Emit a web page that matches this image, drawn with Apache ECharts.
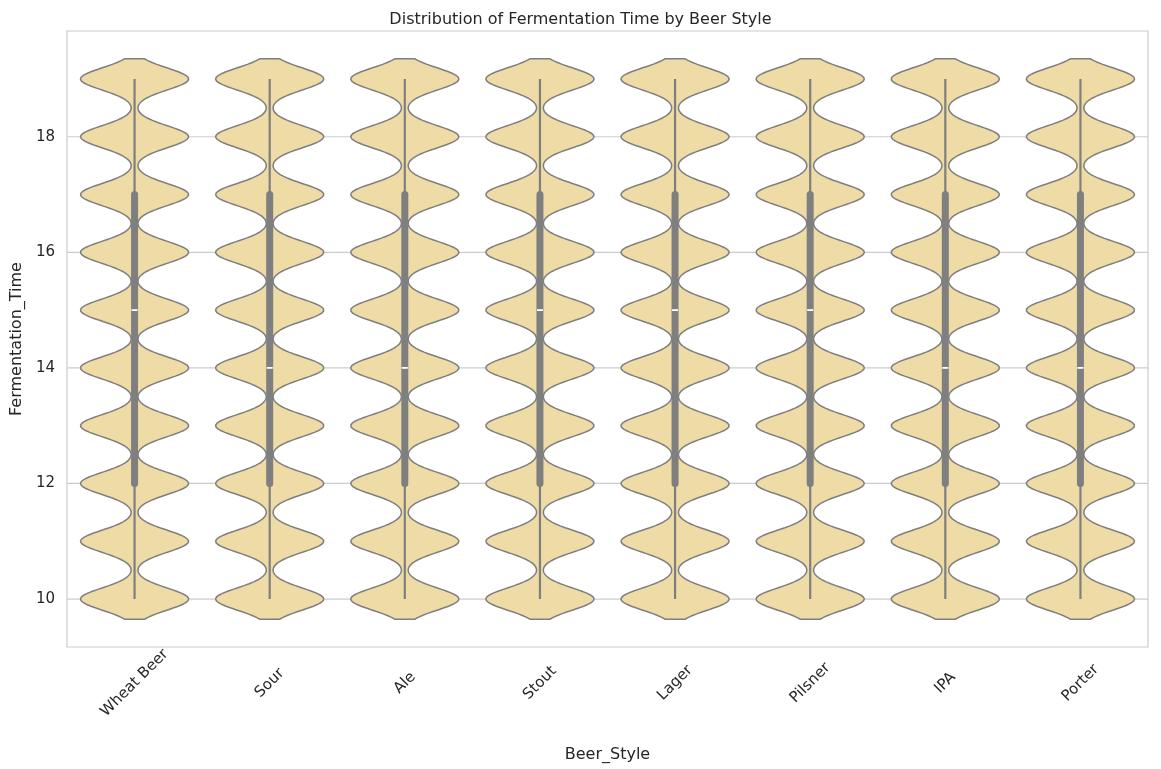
<!DOCTYPE html>
<html><head><meta charset="utf-8">
<script src="https://cdn.jsdelivr.net/npm/echarts@6/dist/echarts.min.js"></script>
<style>html,body{margin:0;padding:0;background:#fff}#c{width:1161px;height:769px}</style>
</head><body><div id="c"></div>
<script>
const categories = ['Wheat Beer','Sour','Ale','Stout','Lager','Pilsner','IPA','Porter'];
const values = [10,11,12,13,14,15,16,17,18,19];
// approximate counts of each fermentation time per style (near uniform)
const counts = [
  [10,10,10,10,10,10,10,10,10,10],
  [10,10,10,10,10,10,10,10,10,10],
  [10,10,10,10,10,10,10,10,10,10],
  [10,10,10,10,10,10,10,10,10,10],
  [10,10,10,10,10,10,10,10,10,10],
  [10,10,10,10,10,10,10,10,10,10],
  [10,10,10,10,10,10,10,10,10,10],
  [10,10,10,10,10,10,10,10,10,10]
];
const mins = [10,10,10,10,10,10,10,10];
const q1s = [12,12,12,12,12,12,12,12];
const medians = [15,14,14,15,15,15,14,14];
const q3s = [17,17,17,17,17,17,17,17];
const maxs = [19,19,19,19,19,19,19,19];
const yTicks = [10,12,14,16,18];

const BW = 0.19, CUT = 0.35;
function kde(ci, y){
  let s=0;
  values.forEach((v,i)=>{const z=(y-v)/BW; s+=counts[ci][i]*Math.exp(-0.5*z*z);});
  return s;
}
const data = categories.map((c,i)=>[i, mins[i], q1s[i], medians[i], q3s[i], maxs[i]]);

const chart = echarts.init(document.getElementById('c'));
chart.setOption({
  animation:false,
  title:{text:'Distribution of Fermentation Time by Beer Style',left:'center',top:7,
    textStyle:{fontFamily:'DejaVu Sans',fontSize:16,fontWeight:'normal',color:'#262626'}},
  grid:{left:67,right:13,top:31,bottom:122,show:true,borderColor:'#cccccc',borderWidth:1.2},
  xAxis:{type:'category',data:categories,boundaryGap:true,
    axisLine:{show:false},axisTick:{show:false},splitLine:{show:false},
    axisLabel:{rotate:45,align:'center',verticalAlign:'middle',margin:36,fontFamily:'DejaVu Sans',fontSize:15,color:'#262626'},
    name:'Beer_Style',nameLocation:'middle',nameGap:100,
    nameTextStyle:{fontFamily:'DejaVu Sans',fontSize:16,color:'#262626'}},
  yAxis:{type:'value',min:9.17,max:19.83,
    axisLine:{show:false},axisTick:{show:false},splitLine:{show:false},
    axisLabel:{customValues:yTicks,fontFamily:'DejaVu Sans',fontSize:15,color:'#262626',margin:12},
    name:'Fermentation_Time',nameLocation:'middle',nameGap:42,
    nameTextStyle:{fontFamily:'DejaVu Sans',fontSize:16,color:'#262626'}},
  series:[
    {type:'custom',z:1,silent:true,data:[[0]],
     renderItem:(params,api)=>{
       const cs=params.coordSys;
       return {type:'group',children:yTicks.map(t=>{
         const y=api.coord([0,t])[1];
         return {type:'line',shape:{x1:cs.x,y1:y,x2:cs.x+cs.width,y2:y},style:{stroke:'#cccccc',lineWidth:1.2}};
       })};
     }},
    {type:'custom',z:2,data:data,encode:{x:0,y:[1,5]},
     renderItem:(params,api)=>{
       const ci=api.value(0);
       const cx=api.coord([ci,0])[0];
       const band=api.size([1,0])[0];
       const half=band*0.8/2;
       const lo=mins[ci]-CUT, hi=maxs[ci]+CUT, N=300;
       let peak=0; const ds=[];
       for(let k=0;k<=N;k++){const y=lo+(hi-lo)*k/N; const d=kde(ci,y); ds.push([y,d]); if(d>peak)peak=d;}
       const right=[],left=[];
       ds.forEach(([y,d])=>{const py=api.coord([ci,y])[1]; const w=d/peak*half; right.push([cx+w,py]); left.push([cx-w,py]);});
       const pts=right.concat(left.reverse());
       const p=v=>api.coord([ci,v])[1];
       return {type:'group',children:[
         {type:'polygon',shape:{points:pts},style:{fill:'#eedba5',stroke:'#7f7f7f',lineWidth:1.5}},
         {type:'line',shape:{x1:cx,y1:p(mins[ci]),x2:cx,y2:p(maxs[ci])},style:{stroke:'#7f7f7f',lineWidth:2.2}},
         {type:'line',shape:{x1:cx,y1:p(q1s[ci]),x2:cx,y2:p(q3s[ci])},style:{stroke:'#7f7f7f',lineWidth:7,lineCap:'round'}},
         {type:'line',shape:{x1:cx-3,y1:p(medians[ci]),x2:cx+3,y2:p(medians[ci])},style:{stroke:'#ffffff',lineWidth:1.8}}
       ]};
     }}
  ]
});
</script></body></html>
